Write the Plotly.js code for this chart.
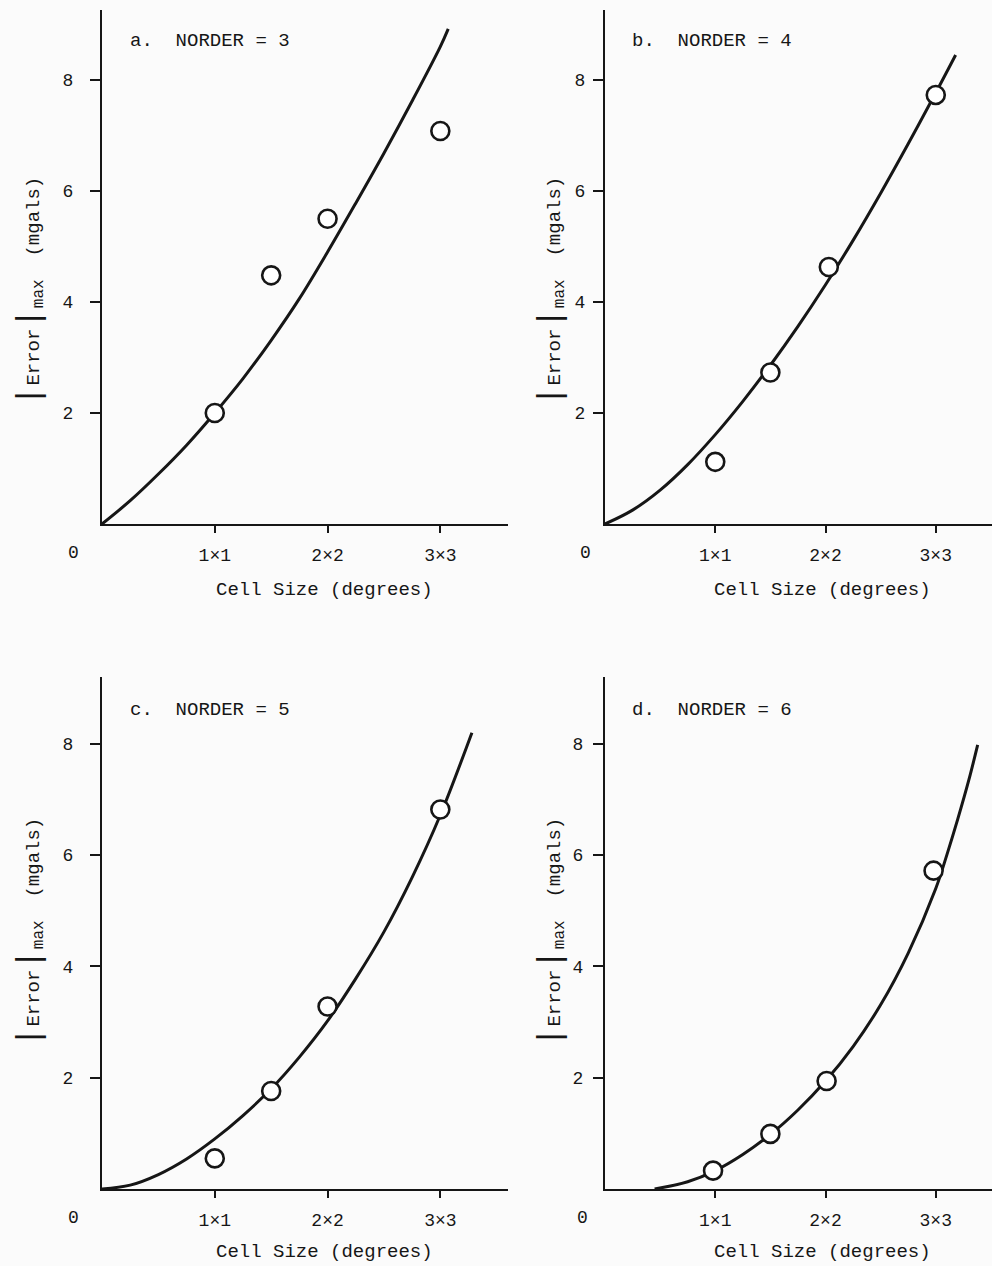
<!DOCTYPE html>
<html>
<head>
<meta charset="utf-8">
<script src="https://cdn.plot.ly/plotly-3.0.1.min.js"></script>
<style>html,body{margin:0;padding:0;background:#fbfbfb;}#chart{width:992px;height:1266px;}</style>
</head>
<body>
<div id="chart"></div>
<script>
// Measured points (circles)
const pointX = [1, 1.5, 2, 3];
const aPoints = [2.0, 4.48, 5.5, 7.08];
const bPointX = [1, 1.5, 2.03, 3.0];
const bPoints = [1.12, 2.73, 4.63, 7.73];
const cPoints = [0.55, 1.76, 3.28, 6.82];
const dPointX = [0.98, 1.5, 2.01, 2.98];
const dPoints = [0.33, 0.99, 1.94, 5.72];

// Fitted curves
const aCurveX = [0, 0.25, 0.5, 0.75, 1, 1.25, 1.5, 1.75, 2, 2.25, 2.5, 2.75, 3, 3.07];
const aCurveY = [0, 0.42, 0.9, 1.42, 2.0, 2.62, 3.31, 4.06, 4.9, 5.78, 6.68, 7.62, 8.6, 8.92];
const bCurveX = [0, 0.25, 0.5, 0.75, 1, 1.25, 1.5, 1.75, 2, 2.25, 2.5, 2.75, 3, 3.18];
const bCurveY = [0, 0.25, 0.61, 1.07, 1.61, 2.21, 2.86, 3.56, 4.31, 5.11, 5.96, 6.85, 7.77, 8.45];
const cCurveX = [0, 0.25, 0.5, 0.75, 1, 1.25, 1.5, 1.75, 2, 2.25, 2.5, 2.75, 3, 3.28];
const cCurveY = [0, 0.07, 0.26, 0.54, 0.9, 1.32, 1.8, 2.37, 3.02, 3.78, 4.62, 5.6, 6.72, 8.2];
const dCurveX = [0.45, 0.75, 1, 1.25, 1.5, 1.75, 2, 2.25, 2.5, 2.75, 3, 3.1, 3.2, 3.3, 3.38];
const dCurveY = [0, 0.13, 0.33, 0.62, 0.98, 1.42, 1.94, 2.56, 3.31, 4.24, 5.4, 6.0, 6.65, 7.35, 7.98];

const xTickVals = [1, 2, 3];
const xTickText = ['1\u00d71', '2\u00d72', '3\u00d73'];
const yTickVals = [2, 4, 6, 8];
const panelLabels = ['a.  NORDER = 3', 'b.  NORDER = 4', 'c.  NORDER = 5', 'd.  NORDER = 6'];
const xTitle = 'Cell Size (degrees)';
const yTitle = '<span style="font-size:34px">|</span>Error<span style="font-size:34px">|</span><sub><span style="font-size:16px">max</span></sub>  (mgals)';

const FONT = 'Liberation Mono, Courier New, monospace';
const INK = '#161616';

const panels = [
  {cx: aCurveX, cy: aCurveY, px: pointX, py: aPoints, xa: 'x', ya: 'y'},
  {cx: bCurveX, cy: bCurveY, px: bPointX, py: bPoints, xa: 'x2', ya: 'y2'},
  {cx: cCurveX, cy: cCurveY, px: pointX, py: cPoints, xa: 'x3', ya: 'y3'},
  {cx: dCurveX, cy: dCurveY, px: dPointX, py: dPoints, xa: 'x4', ya: 'y4'}
];

const traces = [];
panels.forEach(p => {
  traces.push({x: p.cx, y: p.cy, xaxis: p.xa, yaxis: p.ya, mode: 'lines', type: 'scatter',
    line: {color: INK, width: 3, shape: 'spline', smoothing: 1}, hoverinfo: 'skip', cliponaxis: false});
  traces.push({x: p.px, y: p.py, xaxis: p.xa, yaxis: p.ya, mode: 'markers', type: 'scatter',
    marker: {symbol: 'circle', size: 18, color: '#ffffff', line: {color: INK, width: 2.6}}, cliponaxis: false});
});

function xax(domain, range) {
  return {domain: domain, range: range, showline: true, linecolor: INK, linewidth: 2,
    ticks: 'outside', ticklen: 7, tickwidth: 2, tickcolor: INK,
    tickvals: xTickVals, ticktext: xTickText, showgrid: false, zeroline: false,
    tickfont: {family: FONT, size: 18, color: INK}, ticklabelstandoff: 6, fixedrange: true};
}
function yax(domain, range, standoff) {
  return {domain: domain, range: range, showline: true, linecolor: INK, linewidth: 2,
    ticks: 'outside', ticklen: 10, tickwidth: 2, tickcolor: INK,
    tickvals: yTickVals, showgrid: false, zeroline: false,
    tickfont: {family: FONT, size: 18, color: INK}, ticklabelstandoff: standoff, fixedrange: true};
}

const leftX = [102/992, 508/992];
const rightX = [605/992, 1.0];
const topY = [1 - 524/1266, 1 - 10/1266];
const botY = [1 - 1189/1266, 1 - 677/1266];

const annotations = [];
const axisPairs = [['x', 'y'], ['x2', 'y2'], ['x3', 'y3'], ['x4', 'y4']];
const labelY = [8.7, 8.7, 8.6, 8.6];
axisPairs.forEach((pr, i) => {
  annotations.push({xref: pr[0], yref: pr[1], x: 0.23, y: labelY[i], text: panelLabels[i],
    showarrow: false, xanchor: 'left', yanchor: 'middle', font: {family: FONT, size: 19, color: INK}});
});
// x axis titles
[['x', 590], ['x2', 590], ['x3', 1252], ['x4', 1252]].forEach(t => {
  annotations.push({xref: t[0], yref: 'paper', x: 1.97, y: 1 - t[1]/1266, text: xTitle,
    showarrow: false, xanchor: 'center', yanchor: 'middle', font: {family: FONT, size: 19, color: INK}});
});
// corner zeros
[[73, 553], [585, 553], [73, 1218], [582, 1218]].forEach(t => {
  annotations.push({xref: 'paper', yref: 'paper', x: t[0]/992, y: 1 - t[1]/1266, text: '0',
    showarrow: false, xanchor: 'center', yanchor: 'middle', font: {family: FONT, size: 18, color: INK}});
});
// y axis titles
[[30, 292], [551, 292], [30, 933], [551, 933]].forEach(t => {
  annotations.push({xref: 'paper', yref: 'paper', x: t[0]/992, y: 1 - t[1]/1266, text: yTitle, textangle: -90,
    showarrow: false, xanchor: 'center', yanchor: 'middle', font: {family: FONT, size: 19, color: INK}});
});

const layout = {
  width: 992, height: 1266, margin: {l: 0, r: 0, t: 0, b: 0},
  paper_bgcolor: '#fbfbfb', plot_bgcolor: 'rgba(0,0,0,0)', showlegend: false,
  xaxis: xax(leftX, [0, 3.6]), yaxis: yax(topY, [0, 9.26], 13),
  xaxis2: xax(rightX, [0, 3.51]), yaxis2: yax(topY, [0, 9.26], 4),
  xaxis3: xax(leftX, [0, 3.6]), yaxis3: yax(botY, [0, 9.2], 13),
  xaxis4: xax(rightX, [0, 3.51]), yaxis4: yax(botY, [0, 9.2], 6),
  annotations: annotations
};
layout.xaxis.anchor = 'y'; layout.yaxis.anchor = 'x';
layout.xaxis2.anchor = 'y2'; layout.yaxis2.anchor = 'x2';
layout.xaxis3.anchor = 'y3'; layout.yaxis3.anchor = 'x3';
layout.xaxis4.anchor = 'y4'; layout.yaxis4.anchor = 'x4';

Plotly.newPlot('chart', traces, layout, {staticPlot: true, displayModeBar: false});
</script>
</body>
</html>
